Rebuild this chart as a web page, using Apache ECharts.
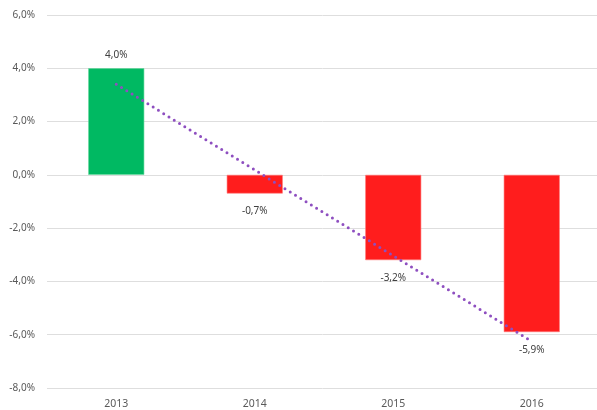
<!DOCTYPE html>
<html>
<head>
<meta charset="utf-8">
<script src="https://cdn.jsdelivr.net/npm/echarts@6/dist/echarts.min.js"></script>
<style>
  html, body { margin: 0; padding: 0; background: #fff; }
  #chart { width: 597px; height: 410px; }
</style>
</head>
<body>
<div id="chart"></div>
<script>
const years = ['2013', '2014', '2015', '2016']
const growth = [4.0, -0.7, -3.2, -5.9]
// trend line end points
const trend = [3.4, null, null, -6.25]

const fmt = v => v.toFixed(1).replace('.', ',') + '%'

const chart = echarts.init(document.getElementById('chart'))
chart.setOption({
  animation: false,
  grid: {
    left: 47,
    top: 15,
    width: 554,
    height: 373,
    outerBoundsMode: 'none'
  },
  xAxis: {
    type: 'category',
    data: years,
    axisLine: { show: false },
    axisTick: { show: false },
    axisLabel: {
      color: '#595959',
      fontFamily: 'Noto Sans',
      fontSize: 10.5,
      margin: 11
    }
  },
  yAxis: {
    type: 'value',
    min: -8,
    max: 6,
    interval: 2,
    axisLine: { show: false },
    axisTick: { show: false },
    axisLabel: {
      color: '#595959',
      fontFamily: 'Noto Sans',
      fontSize: 10,
      margin: 12,
      formatter: v => fmt(v)
    },
    splitLine: { lineStyle: { color: '#dedede', width: 1 } }
  },
  series: [
    {
      type: 'bar',
      barWidth: 56,
      data: growth.map(v => ({
        value: v,
        itemStyle: {
          color: v >= 0 ? '#00b962' : '#ff1d1d',
          borderColor: v >= 0 ? '#5fd89a' : '#ff7a7a',
          borderWidth: 0.6
        },
        label: {
          position: v >= 0 ? 'top' : 'bottom',
          distance: v >= 0 ? 8 : 13
        }
      })),
      label: {
        show: true,
        color: '#404040',
        fontFamily: 'Noto Sans',
        fontSize: 10,
        formatter: p => fmt(p.value)
      },
      z: 2
    },
    {
      type: 'line',
      data: trend,
      connectNulls: true,
      symbol: 'none',
      lineStyle: {
        color: '#8e4fc0',
        width: 3,
        type: [0, 6.2],
        cap: 'round'
      },
      z: 3
    }
  ]
})
</script>
</body>
</html>
